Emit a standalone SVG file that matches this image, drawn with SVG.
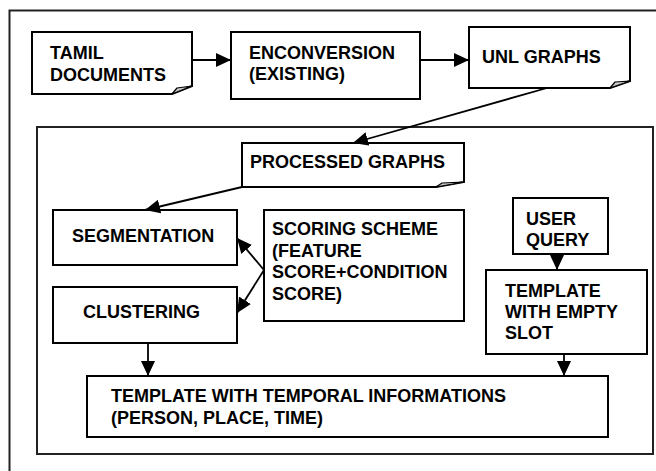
<svg xmlns="http://www.w3.org/2000/svg" width="656" height="471" viewBox="0 0 656 471">
<style>
.box{fill:#fff;stroke:#000;stroke-width:2}
.frame{fill:none;stroke:#222;stroke-width:2}
.fold{fill:#c8c8c8;stroke:#000;stroke-width:1.2;stroke-linejoin:round}
.t{font-family:"Liberation Sans",Arial,sans-serif;font-weight:bold;font-size:18px;fill:#000}
.c{fill:none;stroke:#000;stroke-width:1.8}
</style>
<defs>
<marker id="ah" markerUnits="userSpaceOnUse" markerWidth="15" markerHeight="14" refX="15" refY="7" orient="auto">
<path d="M0,0 L15,7 L0,14 Z" fill="#000"/>
</marker>
</defs>
<rect x="0" y="0" width="656" height="471" fill="#fff"/>
<g id="outer-frame"><rect class="frame" x="9.5" y="10.5" width="700" height="500"/></g>
<g id="inner-frame"><rect class="frame" x="37" y="127" width="616" height="327"/></g>

<g id="tamil">
<path class="box" d="M32,32 H192 V86 L172,94 H32 Z"/>
<path class="fold" d="M172,94 L177,88 L192,86 Z"/>
<text class="t" x="50" y="59">TAMIL</text>
<text class="t" x="50" y="81">DOCUMENTS</text>
</g>
<g id="enconversion">
<rect class="box" x="231" y="32" width="189" height="67"/>
<text class="t" x="249" y="59">ENCONVERSION</text>
<text class="t" x="249" y="80">(EXISTING)</text>
</g>
<g id="unl">
<path class="box" d="M469,27 H630 V81 L610,88 H469 Z"/>
<path class="fold" d="M610,88 L615,82 L630,81 Z"/>
<text class="t" x="482" y="63">UNL GRAPHS</text>
</g>
<g id="processed">
<path class="box" d="M242,143 H464 V182 L436,187 H242 Z"/>
<path class="fold" d="M436,187 L442,183 L464,182 Z"/>
<text class="t" x="250" y="168">PROCESSED GRAPHS</text>
</g>
<g id="segmentation">
<rect class="box" x="53" y="210" width="184" height="55"/>
<text class="t" x="72" y="242">SEGMENTATION</text>
</g>
<g id="clustering">
<rect class="box" x="53" y="287" width="184" height="56"/>
<text class="t" x="83" y="318">CLUSTERING</text>
</g>
<g id="scoring">
<rect class="box" x="264" y="210" width="200" height="111"/>
<text class="t" x="272" y="235">SCORING SCHEME</text>
<text class="t" x="272" y="256.5">(FEATURE</text>
<text class="t" x="272" y="278">SCORE+CONDITION</text>
<text class="t" x="272" y="299.5">SCORE)</text>
</g>
<g id="userquery">
<rect class="box" x="513" y="198" width="95" height="56"/>
<text class="t" x="526" y="225">USER</text>
<text class="t" x="526" y="246">QUERY</text>
</g>
<g id="template-empty">
<rect class="box" x="486" y="270" width="161" height="84"/>
<text class="t" x="505" y="297">TEMPLATE</text>
<text class="t" x="505" y="318">WITH EMPTY</text>
<text class="t" x="505" y="339">SLOT</text>
</g>
<g id="template-temporal">
<rect class="box" x="87" y="376" width="521" height="61"/>
<text class="t" x="111" y="402">TEMPLATE WITH TEMPORAL INFORMATIONS</text>
<text class="t" x="111" y="424">(PERSON, PLACE, TIME)</text>
</g>

<g id="connectors">
<line class="c" x1="192" y1="60" x2="231" y2="60" marker-end="url(#ah)"/>
<line class="c" x1="420" y1="60" x2="469" y2="60" marker-end="url(#ah)"/>
<line class="c" x1="547" y1="88" x2="353" y2="143" marker-end="url(#ah)"/>
<line class="c" x1="242" y1="187" x2="145" y2="210" marker-end="url(#ah)"/>
<line class="c" x1="264" y1="270" x2="237" y2="238" marker-end="url(#ah)"/>
<line class="c" x1="264" y1="270" x2="237" y2="313" marker-end="url(#ah)"/>
<line class="c" x1="557" y1="254" x2="557" y2="270" marker-end="url(#ah)"/>
<line class="c" x1="148" y1="343" x2="148" y2="376" marker-end="url(#ah)"/>
<line class="c" x1="564" y1="354" x2="564" y2="376" marker-end="url(#ah)"/>
</g>
</svg>
